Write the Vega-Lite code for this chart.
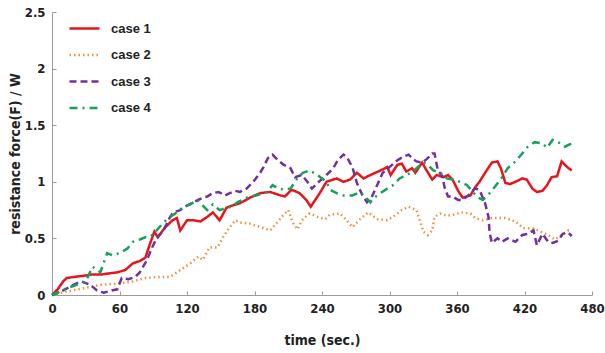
{
  "$schema": "https://vega.github.io/schema/vega-lite/v6.json",
  "width": 540,
  "height": 283,
  "autosize": "none",
  "padding": {"left": 52, "top": 12, "right": 13, "bottom": 58},
  "background": "white",
  "config": {
    "view": {"stroke": null},
    "axis": {"grid": false, "domainColor": "#9a9a9a", "tickColor": "#9a9a9a", "labelColor": "#222", "titleColor": "#222", "labelFont": "DejaVu Sans Condensed, Liberation Sans, sans-serif", "titleFont": "DejaVu Sans Condensed, Liberation Sans, sans-serif", "labelFontWeight": "bold", "titleFontWeight": "bold", "labelFontSize": 13, "titleFontSize": 14}
  },
  "data": {"values": [
{"case":"case 1","t":0,"v":0},{"case":"case 1","t":5,"v":0.05},{"case":"case 1","t":10,"v":0.12},{"case":"case 1","t":13,"v":0.15},{"case":"case 1","t":20,"v":0.16},{"case":"case 1","t":28,"v":0.17},{"case":"case 1","t":35,"v":0.18},{"case":"case 1","t":43,"v":0.18},{"case":"case 1","t":50,"v":0.19},{"case":"case 1","t":58,"v":0.2},{"case":"case 1","t":65,"v":0.22},{"case":"case 1","t":72,"v":0.28},{"case":"case 1","t":78,"v":0.3},{"case":"case 1","t":83,"v":0.33},{"case":"case 1","t":87,"v":0.45},{"case":"case 1","t":91,"v":0.56},{"case":"case 1","t":94,"v":0.51},{"case":"case 1","t":100,"v":0.59},{"case":"case 1","t":107,"v":0.66},{"case":"case 1","t":111,"v":0.68},{"case":"case 1","t":114,"v":0.57},{"case":"case 1","t":120,"v":0.66},{"case":"case 1","t":126,"v":0.66},{"case":"case 1","t":132,"v":0.65},{"case":"case 1","t":138,"v":0.69},{"case":"case 1","t":143,"v":0.73},{"case":"case 1","t":149,"v":0.66},{"case":"case 1","t":155,"v":0.77},{"case":"case 1","t":160,"v":0.79},{"case":"case 1","t":167,"v":0.81},{"case":"case 1","t":176,"v":0.86},{"case":"case 1","t":185,"v":0.9},{"case":"case 1","t":194,"v":0.91},{"case":"case 1","t":203,"v":0.88},{"case":"case 1","t":207,"v":0.87},{"case":"case 1","t":213,"v":0.93},{"case":"case 1","t":220,"v":0.9},{"case":"case 1","t":226,"v":0.84},{"case":"case 1","t":230,"v":0.78},{"case":"case 1","t":234,"v":0.84},{"case":"case 1","t":238,"v":0.9},{"case":"case 1","t":244,"v":1.0},{"case":"case 1","t":253,"v":1.03},{"case":"case 1","t":259,"v":1.0},{"case":"case 1","t":265,"v":1.02},{"case":"case 1","t":271,"v":1.08},{"case":"case 1","t":277,"v":1.03},{"case":"case 1","t":283,"v":1.06},{"case":"case 1","t":292,"v":1.1},{"case":"case 1","t":298,"v":1.13},{"case":"case 1","t":301,"v":1.06},{"case":"case 1","t":307,"v":1.15},{"case":"case 1","t":311,"v":1.16},{"case":"case 1","t":315,"v":1.09},{"case":"case 1","t":320,"v":1.12},{"case":"case 1","t":323,"v":1.08},{"case":"case 1","t":329,"v":1.17},{"case":"case 1","t":333,"v":1.1},{"case":"case 1","t":338,"v":1.02},{"case":"case 1","t":342,"v":1.06},{"case":"case 1","t":348,"v":1.04},{"case":"case 1","t":352,"v":1.06},{"case":"case 1","t":356,"v":1.02},{"case":"case 1","t":361,"v":0.92},{"case":"case 1","t":365,"v":0.86},{"case":"case 1","t":372,"v":0.88},{"case":"case 1","t":376,"v":0.95},{"case":"case 1","t":380,"v":1.0},{"case":"case 1","t":385,"v":1.08},{"case":"case 1","t":391,"v":1.17},{"case":"case 1","t":396,"v":1.18},{"case":"case 1","t":399,"v":1.12},{"case":"case 1","t":403,"v":0.99},{"case":"case 1","t":407,"v":0.98},{"case":"case 1","t":412,"v":1.0},{"case":"case 1","t":418,"v":1.03},{"case":"case 1","t":422,"v":1.02},{"case":"case 1","t":427,"v":0.94},{"case":"case 1","t":431,"v":0.91},{"case":"case 1","t":436,"v":0.92},{"case":"case 1","t":440,"v":0.97},{"case":"case 1","t":444,"v":1.04},{"case":"case 1","t":449,"v":1.05},{"case":"case 1","t":453,"v":1.18},{"case":"case 1","t":458,"v":1.13},{"case":"case 1","t":462,"v":1.1},
{"case":"case 2","t":0,"v":0},{"case":"case 2","t":13,"v":0.03},{"case":"case 2","t":28,"v":0.06},{"case":"case 2","t":43,"v":0.09},{"case":"case 2","t":58,"v":0.1},{"case":"case 2","t":72,"v":0.12},{"case":"case 2","t":83,"v":0.15},{"case":"case 2","t":96,"v":0.16},{"case":"case 2","t":105,"v":0.16},{"case":"case 2","t":114,"v":0.22},{"case":"case 2","t":123,"v":0.28},{"case":"case 2","t":130,"v":0.34},{"case":"case 2","t":134,"v":0.31},{"case":"case 2","t":140,"v":0.42},{"case":"case 2","t":147,"v":0.42},{"case":"case 2","t":152,"v":0.51},{"case":"case 2","t":158,"v":0.6},{"case":"case 2","t":163,"v":0.66},{"case":"case 2","t":167,"v":0.64},{"case":"case 2","t":176,"v":0.63},{"case":"case 2","t":185,"v":0.6},{"case":"case 2","t":194,"v":0.57},{"case":"case 2","t":200,"v":0.64},{"case":"case 2","t":206,"v":0.71},{"case":"case 2","t":210,"v":0.75},{"case":"case 2","t":214,"v":0.64},{"case":"case 2","t":218,"v":0.58},{"case":"case 2","t":223,"v":0.67},{"case":"case 2","t":229,"v":0.72},{"case":"case 2","t":236,"v":0.69},{"case":"case 2","t":243,"v":0.67},{"case":"case 2","t":247,"v":0.71},{"case":"case 2","t":256,"v":0.72},{"case":"case 2","t":262,"v":0.66},{"case":"case 2","t":267,"v":0.6},{"case":"case 2","t":274,"v":0.67},{"case":"case 2","t":281,"v":0.73},{"case":"case 2","t":289,"v":0.67},{"case":"case 2","t":298,"v":0.66},{"case":"case 2","t":303,"v":0.69},{"case":"case 2","t":311,"v":0.75},{"case":"case 2","t":317,"v":0.78},{"case":"case 2","t":324,"v":0.75},{"case":"case 2","t":327,"v":0.66},{"case":"case 2","t":330,"v":0.56},{"case":"case 2","t":334,"v":0.53},{"case":"case 2","t":338,"v":0.57},{"case":"case 2","t":340,"v":0.69},{"case":"case 2","t":345,"v":0.72},{"case":"case 2","t":351,"v":0.7},{"case":"case 2","t":357,"v":0.71},{"case":"case 2","t":364,"v":0.73},{"case":"case 2","t":372,"v":0.72},{"case":"case 2","t":376,"v":0.68},{"case":"case 2","t":383,"v":0.66},{"case":"case 2","t":391,"v":0.68},{"case":"case 2","t":398,"v":0.68},{"case":"case 2","t":403,"v":0.68},{"case":"case 2","t":412,"v":0.65},{"case":"case 2","t":419,"v":0.59},{"case":"case 2","t":427,"v":0.59},{"case":"case 2","t":432,"v":0.57},{"case":"case 2","t":441,"v":0.53},{"case":"case 2","t":447,"v":0.49},{"case":"case 2","t":453,"v":0.53},{"case":"case 2","t":459,"v":0.57},{"case":"case 2","t":462,"v":0.56},
{"case":"case 3","t":0,"v":0},{"case":"case 3","t":5,"v":0.02},{"case":"case 3","t":10,"v":0.04},{"case":"case 3","t":19,"v":0.09},{"case":"case 3","t":26,"v":0.12},{"case":"case 3","t":34,"v":0.09},{"case":"case 3","t":40,"v":0.04},{"case":"case 3","t":46,"v":0.02},{"case":"case 3","t":53,"v":0.04},{"case":"case 3","t":58,"v":0.05},{"case":"case 3","t":62,"v":0.15},{"case":"case 3","t":68,"v":0.14},{"case":"case 3","t":74,"v":0.16},{"case":"case 3","t":78,"v":0.2},{"case":"case 3","t":84,"v":0.3},{"case":"case 3","t":89,"v":0.42},{"case":"case 3","t":93,"v":0.5},{"case":"case 3","t":99,"v":0.57},{"case":"case 3","t":105,"v":0.69},{"case":"case 3","t":108,"v":0.73},{"case":"case 3","t":114,"v":0.75},{"case":"case 3","t":120,"v":0.79},{"case":"case 3","t":126,"v":0.82},{"case":"case 3","t":132,"v":0.85},{"case":"case 3","t":138,"v":0.87},{"case":"case 3","t":143,"v":0.9},{"case":"case 3","t":148,"v":0.91},{"case":"case 3","t":154,"v":0.88},{"case":"case 3","t":158,"v":0.9},{"case":"case 3","t":163,"v":0.92},{"case":"case 3","t":167,"v":0.91},{"case":"case 3","t":173,"v":0.94},{"case":"case 3","t":179,"v":1.0},{"case":"case 3","t":185,"v":1.08},{"case":"case 3","t":188,"v":1.13},{"case":"case 3","t":192,"v":1.21},{"case":"case 3","t":196,"v":1.24},{"case":"case 3","t":201,"v":1.19},{"case":"case 3","t":206,"v":1.15},{"case":"case 3","t":212,"v":1.12},{"case":"case 3","t":216,"v":1.04},{"case":"case 3","t":222,"v":1.06},{"case":"case 3","t":227,"v":1.0},{"case":"case 3","t":231,"v":0.94},{"case":"case 3","t":236,"v":0.99},{"case":"case 3","t":243,"v":1.05},{"case":"case 3","t":250,"v":1.12},{"case":"case 3","t":254,"v":1.19},{"case":"case 3","t":259,"v":1.24},{"case":"case 3","t":262,"v":1.22},{"case":"case 3","t":267,"v":1.13},{"case":"case 3","t":271,"v":0.99},{"case":"case 3","t":276,"v":0.88},{"case":"case 3","t":280,"v":0.82},{"case":"case 3","t":284,"v":0.86},{"case":"case 3","t":289,"v":0.97},{"case":"case 3","t":294,"v":1.08},{"case":"case 3","t":300,"v":1.13},{"case":"case 3","t":307,"v":1.19},{"case":"case 3","t":312,"v":1.22},{"case":"case 3","t":317,"v":1.24},{"case":"case 3","t":321,"v":1.2},{"case":"case 3","t":324,"v":1.18},{"case":"case 3","t":329,"v":1.17},{"case":"case 3","t":333,"v":1.2},{"case":"case 3","t":338,"v":1.25},{"case":"case 3","t":340,"v":1.25},{"case":"case 3","t":343,"v":1.1},{"case":"case 3","t":347,"v":1.05},{"case":"case 3","t":349,"v":0.95},{"case":"case 3","t":352,"v":0.87},{"case":"case 3","t":356,"v":0.87},{"case":"case 3","t":361,"v":0.84},{"case":"case 3","t":365,"v":0.84},{"case":"case 3","t":370,"v":0.88},{"case":"case 3","t":376,"v":0.94},{"case":"case 3","t":380,"v":0.93},{"case":"case 3","t":385,"v":0.81},{"case":"case 3","t":388,"v":0.69},{"case":"case 3","t":389,"v":0.55},{"case":"case 3","t":391,"v":0.46},{"case":"case 3","t":396,"v":0.5},{"case":"case 3","t":400,"v":0.47},{"case":"case 3","t":405,"v":0.5},{"case":"case 3","t":412,"v":0.47},{"case":"case 3","t":418,"v":0.53},{"case":"case 3","t":423,"v":0.54},{"case":"case 3","t":428,"v":0.57},{"case":"case 3","t":431,"v":0.44},{"case":"case 3","t":436,"v":0.54},{"case":"case 3","t":441,"v":0.47},{"case":"case 3","t":445,"v":0.46},{"case":"case 3","t":450,"v":0.48},{"case":"case 3","t":454,"v":0.54},{"case":"case 3","t":459,"v":0.55},{"case":"case 3","t":462,"v":0.52},
{"case":"case 4","t":0,"v":0},{"case":"case 4","t":5,"v":0.02},{"case":"case 4","t":13,"v":0.06},{"case":"case 4","t":19,"v":0.08},{"case":"case 4","t":25,"v":0.1},{"case":"case 4","t":30,"v":0.12},{"case":"case 4","t":36,"v":0.25},{"case":"case 4","t":43,"v":0.2},{"case":"case 4","t":49,"v":0.37},{"case":"case 4","t":54,"v":0.35},{"case":"case 4","t":60,"v":0.37},{"case":"case 4","t":67,"v":0.41},{"case":"case 4","t":72,"v":0.47},{"case":"case 4","t":78,"v":0.49},{"case":"case 4","t":83,"v":0.51},{"case":"case 4","t":87,"v":0.51},{"case":"case 4","t":93,"v":0.57},{"case":"case 4","t":99,"v":0.64},{"case":"case 4","t":105,"v":0.69},{"case":"case 4","t":111,"v":0.73},{"case":"case 4","t":117,"v":0.78},{"case":"case 4","t":123,"v":0.8},{"case":"case 4","t":129,"v":0.84},{"case":"case 4","t":133,"v":0.8},{"case":"case 4","t":138,"v":0.75},{"case":"case 4","t":143,"v":0.8},{"case":"case 4","t":149,"v":0.75},{"case":"case 4","t":155,"v":0.77},{"case":"case 4","t":160,"v":0.78},{"case":"case 4","t":165,"v":0.82},{"case":"case 4","t":173,"v":0.86},{"case":"case 4","t":182,"v":0.88},{"case":"case 4","t":191,"v":0.91},{"case":"case 4","t":196,"v":0.97},{"case":"case 4","t":201,"v":0.94},{"case":"case 4","t":207,"v":0.93},{"case":"case 4","t":212,"v":0.94},{"case":"case 4","t":218,"v":1.03},{"case":"case 4","t":223,"v":1.08},{"case":"case 4","t":229,"v":1.1},{"case":"case 4","t":236,"v":1.06},{"case":"case 4","t":240,"v":1.03},{"case":"case 4","t":244,"v":1.0},{"case":"case 4","t":247,"v":0.93},{"case":"case 4","t":253,"v":0.9},{"case":"case 4","t":259,"v":0.88},{"case":"case 4","t":267,"v":0.88},{"case":"case 4","t":274,"v":0.91},{"case":"case 4","t":278,"v":0.87},{"case":"case 4","t":283,"v":0.82},{"case":"case 4","t":285,"v":0.85},{"case":"case 4","t":292,"v":0.9},{"case":"case 4","t":298,"v":0.94},{"case":"case 4","t":303,"v":0.97},{"case":"case 4","t":309,"v":1.03},{"case":"case 4","t":315,"v":1.06},{"case":"case 4","t":321,"v":1.09},{"case":"case 4","t":324,"v":1.12},{"case":"case 4","t":330,"v":1.17},{"case":"case 4","t":334,"v":1.15},{"case":"case 4","t":339,"v":1.1},{"case":"case 4","t":345,"v":1.08},{"case":"case 4","t":351,"v":1.03},{"case":"case 4","t":356,"v":1.02},{"case":"case 4","t":363,"v":1.0},{"case":"case 4","t":369,"v":0.97},{"case":"case 4","t":374,"v":0.91},{"case":"case 4","t":379,"v":0.86},{"case":"case 4","t":383,"v":0.84},{"case":"case 4","t":389,"v":0.9},{"case":"case 4","t":394,"v":0.96},{"case":"case 4","t":400,"v":1.04},{"case":"case 4","t":405,"v":1.12},{"case":"case 4","t":412,"v":1.18},{"case":"case 4","t":418,"v":1.25},{"case":"case 4","t":423,"v":1.31},{"case":"case 4","t":429,"v":1.35},{"case":"case 4","t":436,"v":1.34},{"case":"case 4","t":440,"v":1.3},{"case":"case 4","t":445,"v":1.37},{"case":"case 4","t":452,"v":1.34},{"case":"case 4","t":456,"v":1.31},{"case":"case 4","t":462,"v":1.34}
  ]},
  "mark": {"type": "line", "strokeWidth": 2.5},
  "encoding": {
    "x": {"field": "t", "type": "quantitative", "title": "time (sec.)",
      "scale": {"domain": [0, 480], "nice": false, "zero": true},
      "axis": {"values": [0, 60, 120, 180, 240, 300, 360, 420, 480], "tickSize": -4, "labelPadding": 11, "titlePadding": 18, "labelFlush": false}},
    "y": {"field": "v", "type": "quantitative", "title": "resistance force(F) / W",
      "scale": {"domain": [0, 2.5], "nice": false},
      "axis": {"values": [0, 0.5, 1, 1.5, 2, 2.5], "format": "~g", "tickSize": -4, "labelPadding": 11, "titlePadding": 2, "labelFlush": false}},
    "color": {"field": "case", "type": "nominal",
      "scale": {"domain": ["case 1", "case 2", "case 3", "case 4"], "range": ["#e8141c", "#f0903a", "#7030a0", "#17a05a"]},
      "legend": {"title": null, "orient": "none", "legendX": 16, "legendY": 0, "symbolType": "stroke", "symbolSize": 900, "symbolStrokeWidth": 2.5, "labelFont": "Liberation Sans", "labelFontWeight": "bold", "labelFontSize": 13, "labelColor": "#222", "rowPadding": 2.5, "labelOffset": 10, "padding": 0}},
    "strokeDash": {"field": "case", "type": "nominal",
      "scale": {"domain": ["case 1", "case 2", "case 3", "case 4"], "range": [[1, 0], [1.5, 3], [7, 4], [8, 5, 2, 5]]}}
  }
}
